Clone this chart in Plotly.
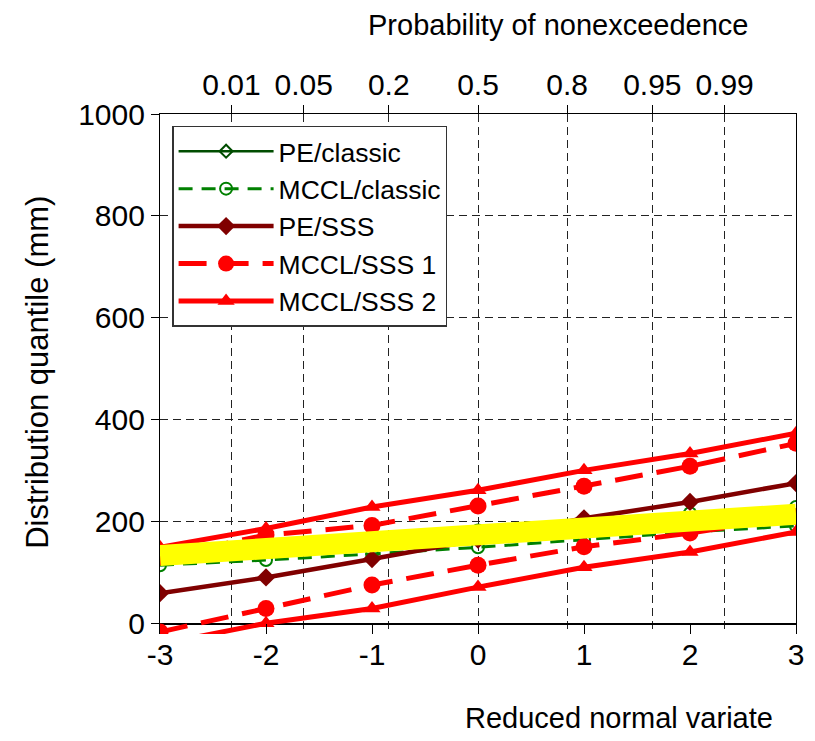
import plotly.graph_objects as go
from statistics import NormalDist

# ---- data ----
z = [-3, -2, -1, 0, 1, 2, 3]
pe_classic = [130, 143, 155, 167, 181, 196, 211]
mccl_classic_upper = [144, 157, 170, 183, 200, 217, 229]
mccl_classic_lower = [115, 125, 137, 150, 165, 180, 192]
pe_sss = [60, 91, 127, 165, 207, 239, 276]
mccl_sss1_upper = [131, 174, 193, 231, 270, 309, 354]
mccl_sss1_lower = [-16, 30, 76, 115, 151, 178, 210]
mccl_sss2_upper = [150, 187, 229, 262, 301, 334, 374]
mccl_sss2_lower = [-40, 1, 30, 72, 111, 141, 180]
highlight = [134, 147, 158, 168, 182, 196, 215]

prob_labels = ["0.01", "0.05", "0.2", "0.5", "0.8", "0.95", "0.99"]
prob_pos = [NormalDist().inv_cdf(float(p)) for p in prob_labels]
y_ticks = [0, 200, 400, 600, 800, 1000]
x_ticks = [-3, -2, -1, 0, 1, 2, 3]

FONT = "Liberation Sans, Arial, sans-serif"


def band(upper, lower):
    return z + [None] + z, upper + [None] + lower


fig = go.Figure()

fig.add_trace(go.Scatter(
    x=z, y=pe_classic, name="PE/classic", mode="lines+markers",
    line=dict(color="#004d00", width=2.5),
    marker=dict(symbol="diamond-open", size=10, color="#004d00", line=dict(width=2)),
))
bx, by = band(mccl_classic_upper, mccl_classic_lower)
fig.add_trace(go.Scatter(
    x=bx, y=by, name="MCCL/classic", mode="lines+markers", connectgaps=False,
    line=dict(color="#008000", width=3, dash="14px,9px"),
    marker=dict(symbol="circle-open", size=12, color="#008000", line=dict(width=2)),
))
fig.add_trace(go.Scatter(
    x=z, y=pe_sss, name="PE/SSS", mode="lines+markers",
    line=dict(color="#800000", width=4.5),
    marker=dict(symbol="diamond", size=14, color="#800000"),
))
bx, by = band(mccl_sss1_upper, mccl_sss1_lower)
fig.add_trace(go.Scatter(
    x=bx, y=by, name="MCCL/SSS 1", mode="lines+markers", connectgaps=False,
    line=dict(color="#ff0000", width=5, dash="28px,14px"),
    marker=dict(symbol="circle", size=17, color="#ff0000"),
))
bx, by = band(mccl_sss2_upper, mccl_sss2_lower)
fig.add_trace(go.Scatter(
    x=bx, y=by, name="MCCL/SSS 2", mode="lines+markers", connectgaps=False,
    line=dict(color="#ff0000", width=5),
    marker=dict(symbol="triangle-up", size=15, color="#ff0000"),
))
fig.add_trace(go.Scatter(
    x=z, y=highlight, mode="lines", showlegend=False, hoverinfo="skip",
    line=dict(color="#ffff00", width=21),
))
fig.add_trace(go.Scatter(x=[None], y=[None], xaxis="x2", showlegend=False))

fig.update_layout(
    width=815, height=741,
    margin=dict(l=160, r=19, t=114, b=107),
    paper_bgcolor="white", plot_bgcolor="white",
    font=dict(family=FONT, size=30, color="black"),
    showlegend=True,
    legend=dict(
        x=0.019, y=0.977, xanchor="left", yanchor="top",
        bgcolor="white", bordercolor="#333333", borderwidth=1.5,
        font=dict(size=26.5), itemwidth=95, tracegroupgap=0,
    ),
    xaxis=dict(
        range=[-3, 3], tickvals=x_ticks, ticktext=[str(v) for v in x_ticks],
        showgrid=False, zeroline=False, showline=False,
        ticks="inside", ticklen=10, tickcolor="black", tickwidth=1.2,
        ticklabelstandoff=0, tickfont=dict(size=30),
    ),
    xaxis2=dict(
        overlaying="x", side="top", anchor="y", range=[-3, 3],
        tickvals=prob_pos, ticktext=prob_labels,
        showgrid=True, gridcolor="#222222", gridwidth=1, griddash="8px,5px",
        zeroline=False, showline=True, linecolor="black", linewidth=1.2,
        ticks="outside", ticklen=8, tickcolor="black",
        ticklabelstandoff=-2, tickfont=dict(size=30),
    ),
    yaxis=dict(
        range=[-20, 1000], tickvals=y_ticks,
        showgrid=True, gridcolor="#222222", gridwidth=1, griddash="8px,5px",
        zeroline=True, zerolinecolor="black", zerolinewidth=1.5,
        showline=True, linecolor="black", linewidth=1.2, mirror=True,
        ticks="outside", ticklen=8, tickcolor="black",
        tickfont=dict(size=30),
    ),
    annotations=[
        dict(text="Distribution quantile (mm)", textangle=-90,
             xref="paper", yref="paper", x=-0.192, y=0.504,
             xanchor="center", yanchor="middle", showarrow=False,
             font=dict(size=31)),
        dict(text="Reduced normal variate",
             xref="paper", yref="paper", x=0.967, y=-0.1615,
             xanchor="right", yanchor="middle", showarrow=False,
             font=dict(size=29)),
        dict(text="Probability of nonexceedence",
             xref="paper", yref="paper", x=0.928, y=1.171,
             xanchor="right", yanchor="middle", showarrow=False,
             font=dict(size=29)),
    ],
)

fig.write_html("out.html")
